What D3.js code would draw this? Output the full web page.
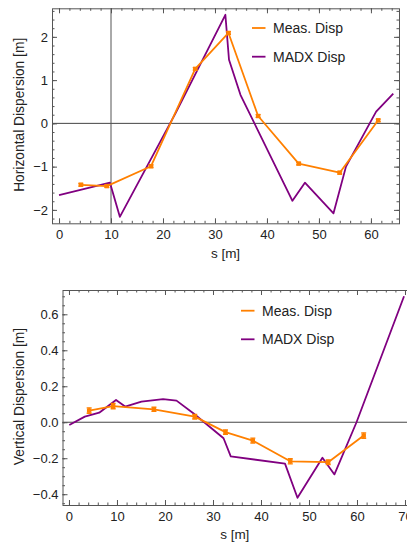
<!DOCTYPE html>
<html>
<head>
<meta charset="utf-8">
<script src="https://cdn.jsdelivr.net/npm/d3@7"></script>
<style>
  body { margin: 0; background: #fff; }
  text { font-family: "Liberation Sans", Arial, sans-serif; fill: #222; }
</style>
</head>
<body>
<div id="chart"></div>
<script>
// BPM positions (shared by both planes)
const bpmS = [4.2, 9.2, 17.7, 26.2, 32.6, 38.3, 46.1, 54.0, 61.4];

// horizontal plane
const measDispX = [-1.42, -1.45, -0.99, 1.26, 2.09, 0.17, -0.93, -1.14, 0.07];
const measErrX = [0.03, 0.03, 0.03, 0.03, 0.03, 0.03, 0.03, 0.03, 0.03];
const madxSX = [0, 9.8, 11.7, 22.4, 32.0, 32.7, 34.9, 44.9, 47.3, 52.8, 55.2, 61.0, 64.3];
const madxDispX = [-1.66, -1.37, -2.16, 0.23, 2.51, 1.47, 0.66, -1.79, -1.37, -2.08, -1.0, 0.27, 0.69];

// vertical plane
const measDispY = [0.065, 0.09, 0.072, 0.031, -0.055, -0.102, -0.217, -0.222, -0.074];
const measErrY = [0.015, 0.015, 0.012, 0.013, 0.013, 0.014, 0.014, 0.013, 0.015];
const madxSY = [0.06, 3.3, 6.3, 9.8, 11.7, 15.1, 19.6, 22.4, 25.9, 32.2, 33.7, 45.0, 47.6, 52.8, 55.3, 59.9, 69.8];
const madxDispY = [-0.015, 0.031, 0.053, 0.124, 0.087, 0.115, 0.128, 0.12, 0.05, -0.089, -0.19, -0.23, -0.42, -0.197, -0.29, 0.0, 0.7];

// ticks
const xTicksTop = [0, 10, 20, 30, 40, 50, 60];
const yTicksTop = [-2, -1, 0, 1, 2];
const xTicksBottom = [0, 10, 20, 30, 40, 50, 60, 70];
const yTicksBottom = [-0.4, -0.2, 0, 0.2, 0.4, 0.6];

const legendLabels = ["Meas. Disp", "MADX Disp"];
const measColor = "#ff8000";
const madxColor = "#800080";
const frameColor = "#555";

const width = 407;
const height = 544;

const svg = d3
  .select("#chart")
  .append("svg")
  .attr("width", width)
  .attr("height", height);

function drawPanel(cfg) {
  const x = d3.scaleLinear().domain(cfg.xDomain).range([cfg.left, cfg.right]);
  const y = d3.scaleLinear().domain(cfg.yDomain).range([cfg.bottom, cfg.top]);
  const g = svg.append("g");

  const clipId = "clip-" + cfg.name;
  g.append("clipPath")
    .attr("id", clipId)
    .append("rect")
    .attr("x", cfg.left)
    .attr("y", cfg.top)
    .attr("width", cfg.right - cfg.left)
    .attr("height", cfg.bottom - cfg.top);

  // axes lines through origin
  g.append("line")
    .attr("x1", cfg.left)
    .attr("x2", cfg.right)
    .attr("y1", y(0))
    .attr("y2", y(0))
    .attr("stroke", "#444")
    .attr("stroke-width", 1);
  if (cfg.axisX != null) {
    g.append("line")
      .attr("x1", x(cfg.axisX))
      .attr("x2", x(cfg.axisX))
      .attr("y1", cfg.top)
      .attr("y2", cfg.bottom)
      .attr("stroke", "#555")
      .attr("stroke-width", 1);
  }

  // frame ticks on all four sides
  const sides = [
    { axis: d3.axisBottom(x), pos: `translate(0,${cfg.bottom})`, vals: cfg.xTicks, minor: cfg.xMinor, fmt: cfg.xFmt, pad: 6.5 },
    { axis: d3.axisTop(x), pos: `translate(0,${cfg.top})`, vals: cfg.xTicks, minor: cfg.xMinor, fmt: null },
    { axis: d3.axisLeft(y), pos: `translate(${cfg.left},0)`, vals: cfg.yTicks, minor: cfg.yMinor, fmt: cfg.yFmt, pad: 4 },
    { axis: d3.axisRight(y), pos: `translate(${cfg.right},0)`, vals: cfg.yTicks, minor: cfg.yMinor, fmt: null },
  ];
  sides.forEach((s) => {
    const maker = s.axis;
    g.append("g")
      .attr("transform", s.pos)
      .call(
        maker
          .tickValues(s.minor)
          .tickSizeInner(-2.5)
          .tickSizeOuter(0)
          .tickFormat("")
      )
      .call((a) => a.select(".domain").remove())
      .call((a) => a.selectAll("line").attr("stroke", frameColor));
    g.append("g")
      .attr("transform", s.pos)
      .call(
        maker
          .tickValues(s.vals)
          .tickSizeInner(-5)
          .tickSizeOuter(0)
          .tickPadding(s.pad || 3)
          .tickFormat(s.fmt ? d3.format(s.fmt) : "")
      )
      .call((a) => a.select(".domain").remove())
      .call((a) => a.selectAll("line").attr("stroke", frameColor))
      .call((a) =>
        a.selectAll("text")
          .attr("fill", "#222")
          .style("font-size", "13px")
          .style("font-family", '"Liberation Sans", Arial, sans-serif')
      );
  });

  g.append("rect")
    .attr("x", cfg.left + 0.5)
    .attr("y", cfg.top + 0.5)
    .attr("width", cfg.right - cfg.left)
    .attr("height", cfg.bottom - cfg.top)
    .attr("fill", "none")
    .attr("stroke", frameColor)
    .attr("stroke-width", 1);

  const plot = g.append("g").attr("clip-path", `url(#${clipId})`);

  // MADX model line
  const madx = cfg.madxS.map((s, i) => [s, cfg.madxD[i]]);
  plot.append("path")
    .datum(madx)
    .attr("fill", "none")
    .attr("stroke", madxColor)
    .attr("stroke-width", 1.8)
    .attr("stroke-linejoin", "round")
    .attr("d", d3.line().x((d) => x(d[0])).y((d) => y(d[1])));

  // measured line with error bars
  const meas = bpmS.map((s, i) => ({ s: s, v: cfg.measD[i], e: cfg.measE[i] }));
  plot.append("path")
    .datum(meas)
    .attr("fill", "none")
    .attr("stroke", measColor)
    .attr("stroke-width", 1.8)
    .attr("stroke-linejoin", "round")
    .attr("d", d3.line().x((d) => x(d.s)).y((d) => y(d.v)));

  const bars = plot.selectAll(".err").data(meas).join("g").attr("class", "err");
  bars.append("line")
    .attr("x1", (d) => x(d.s))
    .attr("x2", (d) => x(d.s))
    .attr("y1", (d) => y(d.v - d.e))
    .attr("y2", (d) => y(d.v + d.e))
    .attr("stroke", measColor)
    .attr("stroke-width", 1.5);
  [-1, 1].forEach((sg) => {
    bars.append("line")
      .attr("x1", (d) => x(d.s) - 2.5)
      .attr("x2", (d) => x(d.s) + 2.5)
      .attr("y1", (d) => y(d.v + sg * d.e))
      .attr("y2", (d) => y(d.v + sg * d.e))
      .attr("stroke", measColor)
      .attr("stroke-width", 1.3);
  });
  bars.append("rect")
    .attr("x", (d) => x(d.s) - 2.2)
    .attr("y", (d) => y(d.v) - 2.2)
    .attr("width", 4.4)
    .attr("height", 4.4)
    .attr("fill", measColor);

  // legend
  [measColor, madxColor].forEach((c, i) => {
    const ly = cfg.legendY + i * cfg.legendGap;
    g.append("line")
      .attr("x1", cfg.legendX)
      .attr("x2", cfg.legendX + 13.5)
      .attr("y1", ly)
      .attr("y2", ly)
      .attr("stroke", c)
      .attr("stroke-width", 1.8);
    g.append("text")
      .attr("x", cfg.legendX + 21)
      .attr("y", ly + 5)
      .style("font-size", "14px")
      .text(legendLabels[i]);
  });

  // axis labels
  g.append("text")
    .attr("x", (cfg.left + Math.min(cfg.right, width)) / 2)
    .attr("y", cfg.xLabelY)
    .attr("text-anchor", "middle")
    .style("font-size", "13.5px")
    .text("s [m]");
  g.append("text")
    .attr("transform", `translate(24,${(cfg.top + cfg.bottom) / 2 - 1}) rotate(-90)`)
    .attr("text-anchor", "middle")
    .style("font-size", "13.8px")
    .text(cfg.yLabel);
}

drawPanel({
  name: "h",
  left: 52, right: 399, top: 8.3, bottom: 223.3,
  xDomain: [-1.35, 65.4], yDomain: [-2.31, 2.66],
  xTicks: xTicksTop, yTicks: yTicksTop,
  xMinor: d3.range(0, 66, 2), yMinor: d3.range(-2.2, 2.61, 0.2),
  xFmt: "d", yFmt: "d",
  axisX: 10,
  madxS: madxSX, madxD: madxDispX,
  measD: measDispX, measE: measErrX,
  legendX: 252, legendY: 28, legendGap: 28.7,
  xLabelY: 258,
  yLabel: "Horizontal Dispersion [m]",
});

drawPanel({
  name: "v",
  left: 62.5, right: 414.6, top: 290, bottom: 505,
  xDomain: [-1.35, 72], yDomain: [-0.46, 0.735],
  xTicks: xTicksBottom, yTicks: yTicksBottom,
  xMinor: d3.range(0, 73, 2), yMinor: d3.range(-0.45, 0.73, 0.05),
  xFmt: "d", yFmt: ".1f",
  axisX: null,
  madxS: madxSY, madxD: madxDispY,
  measD: measDispY, measE: measErrY,
  legendX: 241, legendY: 310.7, legendGap: 28.6,
  xLabelY: 539,
  yLabel: "Vertical Dispersion [m]",
});
</script>
</body>
</html>
